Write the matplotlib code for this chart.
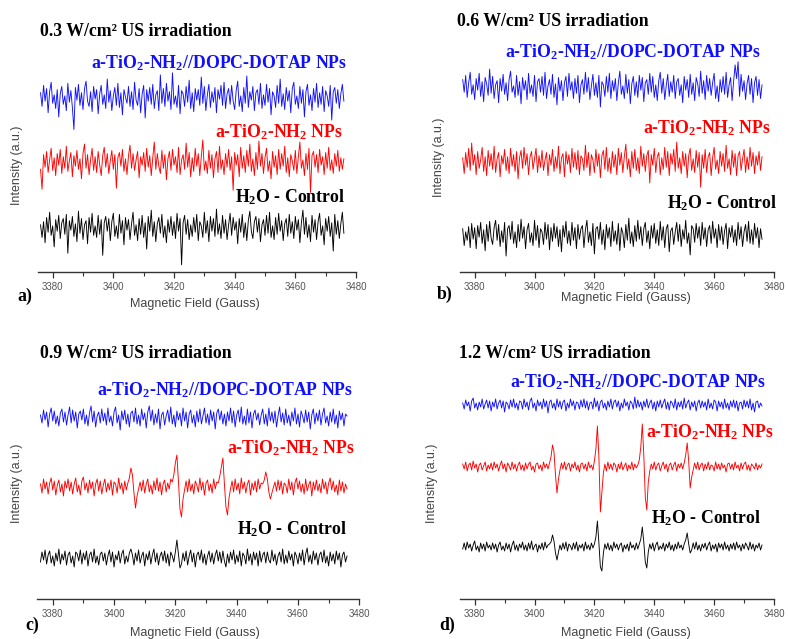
import numpy as np
import matplotlib.pyplot as plt

# EPR spectra, intensities in a.u. sampled every 0.5 G from 3376 to 3476 G
field_start, field_end = 3376, 3476

# panel a, 0.3 W/cm2
a_blue = [5, -8, 12, -3, 9, -14, 6, 15, -5, 3, -10, 8, -18, 4, 11, -6, 2, -12, 14, -4,
          7, -9, -30, 10, -2, 13, -7, 5, -11, 9, 16, -3, -8, 6, -13, 11, -1, 8, -15, 4,
          12, -6, 3, -10, 18, -4, 7, -12, 2, 10, -7, 14, -9, 5, -16, 8, 1, -5, 11, -8,
          6, -11, 15, -2, -7, 9, -14, 4, 12, -19, 8, -3, 10, -6, 13, -10, 3, 7, -12, 22,
          -5, 9, -8, 14, -3, 6, -11, 24, -6, 2, -9, 12, -15, 7, 4, -8, 11, -4, 17, -10,
          5, -13, 9, -2, 8, -7, 20, -5, 11, -12, 3, 13, -9, 6, -4, 10, -14, 8, -1, 12,
          -7, 15, -10, 4, 9, -6, 12, -3, -11, 7, 16, -8, 2, -13, 10, -5, 21, -9, 6, -2,
          11, -12, 5, 8, -6, 14, -10, 3, -7, 13, -4, 9, -16, 6, 2, -9, 12, -5, 18, -8,
          4, -11, 10, -3, 7, -14, 9, 15, -6, 2, -10, 11, -5, 8, -18, 6, 13, -7, 3, -12,
          9, -4, 14, -9, 5, -6, 11, -13, 7, 2, -8, 12, -21, 6, 10, -5, 8, -10, 4, 13,
          -3]
a_red = [-6, -25, 8, -4, 11, -9, 3, 14, -7, 5, -12, 9, -2, 13, -10, 6, -5, 16, -8, 2,
         10, -13, 7, -3, 12, -6, 4, -15, 9, 18, -5, 8, -11, 3, 14, -7, 6, -9, 11, -2,
         -12, 7, 15, -4, 9, -10, 2, 12, -6, 8, -24, 5, 10, -3, 13, -8, 4, -11, 7, 17,
         -5, 9, -7, 3, 11, -14, 6, -2, 10, -8, 14, -4, 7, -12, 5, 20, -6, 9, -3, -10,
         12, -5, 8, -16, 4, 11, -7, 13, -2, 6, -9, 15, -11, 3, 8, -6, 19, -4, 10, -13,
         5, -8, 14, -3, 9, -12, 6, 22, -7, 2, -10, 12, -5, 8, -14, 4, 11, -9, 16, -6,
         3, -11, 9, -4, 13, -7, 6, -26, 10, -2, 8, -13, 15, -5, 7, -9, 12, -3, 18, -8,
         4, -12, 10, -6, 21, -3, 9, -10, 5, 14, -8, 2, -15, 11, -4, 7, -11, 13, -6, 9,
         -3, 16, -9, 5, -13, 8, 2, -7, 12, -10, 6, 20, -5, 3, -12, 9, -6, 14, -28, 7,
         11, -4, 8, -9, 13, -2, 6, -11, 10, -5, 15, -7, 3, -10, 9, -3, 12, -8, 5, -6,
         4]
a_black = [3, -9, 6, -14, 10, -4, 15, -7, 2, -18, 8, -3, 12, -10, 5, 9, -6, 13, -24, 7,
           -2, 11, -8, 4, -13, 16, -5, 9, -11, 3, 7, -15, 10, -4, 14, -7, 2, -9, 12, -6,
           8, -26, 5, 11, -3, 9, -12, 6, 14, -8, 2, -10, 13, -5, 7, -16, 10, -2, 8, -11,
           4, 15, -7, 3, -12, 9, -6, 12, -9, 5, -20, 11, -3, 17, -8, 6, -13, 4, 10, -5,
           13, -9, 2, -14, 8, -4, 11, -7, 6, -10, 14, -3, 9, -35, 5, 12, -6, 8, -11, 3,
           -8, 10, -4, 13, -12, 6, 2, -9, 15, -5, 7, -13, 11, -3, 9, -8, 18, -6, 4, -10,
           12, -5, 8, -11, 3, 14, -7, 10, -2, 6, -15, 9, -4, 13, -9, 5, -12, 7, 16, -3,
           -10, 6, 11, -4, 9, -13, 3, 8, -7, 12, -5, 15, -9, 2, -11, 10, -6, 14, -3, 7,
           -12, 4, 9, -8, 13, -5, 6, -10, 11, -2, 8, -14, 5, 17, -6, 10, -9, 3, -13, 12,
           -4, 8, -11, 6, 14, -7, 2, -16, 9, -3, 11, -8, 5, -22, 13, -6, 7, -10, 4, 15,
           -5]

# panel b, 0.6 W/cm2
b_blue = [8, -4, 12, -9, 5, 15, -6, 3, -11, 9, -2, 14, -8, 6, -13, 10, 4, -7, 18, -5,
          11, -10, 3, 7, -14, 9, -3, 13, -6, 5, -12, 8, 16, -4, 2, -9, 12, -7, 6, -15,
          10, -2, 7, -11, 14, -5, 3, -8, 12, -13, 6, 9, -4, 11, -7, 15, -10, 2, 8, -6,
          13, -9, 4, -16, 10, -3, 7, -12, 5, 11, -8, 14, -2, 6, -10, 9, -5, 12, -14, 3,
          8, -6, 15, -4, 10, -11, 2, 13, -7, 5, -9, 12, -18, 6, 3, -8, 11, -4, 14, -10,
          7, -3, 9, -12, 5, 16, -6, 2, -10, 13, -5, 8, -15, 4, 11, -7, 6, -9, 12, -2,
          10, -13, 5, 8, -6, 14, -4, 11, -9, 3, -12, 7, 15, -5, 9, -11, 2, 13, -8, 6,
          -4, 12, -10, 6, 9, -7, 3, -14, 11, -2, 8, -9, 13, -6, 5, -12, 10, 4, -8, 16,
          -5, 7, -11, 12, -3, 9, -7, 5, 14, -10, 2, -13, 8, -4, 11, -6, 15, -9, 3, 10,
          -12, 6, 22, 9, 25, -8, 13, -3, 7, -11, 4, 12, -6, 9, -14, 5, 11, -7, 8, -10,
          3]
b_red = [4, -11, 9, -5, 13, -8, 18, -3, 7, -12, 10, -6, 2, 14, -9, 5, -13, 11, -4, 8,
         -7, 15, -10, 3, 9, -14, 6, -2, 12, -8, 5, -11, 13, -4, 7, -9, 10, -16, 4, 11,
         -6, 14, -3, 8, -12, 5, 10, -7, 3, 13, -10, 6, -5, 11, -8, 2, 9, -13, 7, -3,
         12, -9, 5, -6, 15, -11, 4, 8, -14, 10, -2, 7, -10, 13, -5, 9, -7, 11, -12, 6,
         3, -8, 16, -5, 9, -13, 7, 2, -10, 12, -4, 8, -15, 6, 11, -7, 14, -9, 4, -11,
         10, -5, 7, -12, 13, -3, 9, -10, 5, 17, -7, 3, -14, 10, -6, 12, -8, 4, -11, 15,
         -4, 8, -9, 6, 11, -20, 7, -3, 13, -10, 5, 9, -12, 4, -7, 14, -5, 10, -13, 8,
         -2, 12, -9, 19, -6, 4, -11, 10, -4, 8, -15, 6, 13, -8, 3, -10, 11, -5, 9, -24,
         7, -6, 12, -10, 5, 9, -13, 4, 14, -7, 2, -11, 10, -4, 8, -9, 16, -6, 3, -12,
         11, -5, 8, -13, 6, 10, -8, 3, 12, -10, 5, -7, 14, -4, 9, -11, 6, -3, 10, -8,
         5]
b_black = [6, -10, 3, -5, 8, -12, 11, -4, 7, -13, 9, -2, 12, -8, 5, -15, 10, -6, 13, -3,
           -9, 7, 14, -5, 10, -11, 4, -7, 12, -20, 6, 9, -4, 13, -8, 3, -12, 10, -6, 15,
           -3, 8, -13, 5, 11, -7, 2, -10, 14, -5, 9, -12, 6, 3, -9, 12, -4, 10, -14, 7,
           -6, 11, -3, 8, -11, 5, -16, 9, -2, 13, -8, 4, -10, 12, -5, 7, -13, 10, -4, 6,
           9, -12, 5, 14, -7, 3, -10, 11, -18, 6, 8, -4, 12, -9, 5, -14, 10, -3, 7, -11,
           13, -6, 4, -9, 11, -15, 7, 2, -12, 10, -5, 16, -8, 3, -11, 9, -6, 14, -4, 8,
           -10, 6, 12, -7, 4, -13, 9, -3, 11, -8, 5, -10, 13, -5, 8, -12, 6, 10, -16, 4,
           7, -9, 3, 12, -6, 10, -11, 5, -4, 14, -8, 2, -19, 9, 6, -7, 11, -3, 8, -10,
           12, -4, 7, -11, 5, 9, -8, 13, -3, 6, -12, 10, -5, 8, -9, 4, 11, -13, 7, -2,
           9, -7, 5, -10, 12, -4, 8, -11, 3, 10, -6, 13, -8, 5, -9, 11, -3, 7, -12, 6,
           -4]

# panel c, 0.9 W/cm2
c_blue = [3, -5, 8, -2, 6, -9, 4, 10, -3, 7, -6, 2, -8, 5, 9, -4, 6, -7, 3, 11,
          -5, 8, -3, 6, -10, 4, 7, -2, 9, -6, 3, -8, 5, 12, -4, 7, -9, 2, 6, -5,
          9, -3, 5, -7, 10, -4, 2, -8, 6, 11, -5, 3, -12, 7, -2, 8, -6, 4, -9, 5,
          7, -4, 10, -6, 3, -8, 9, -2, 5, -10, 6, 12, -3, 8, -7, 4, -5, 9, -11, 3,
          6, -7, 2, 8, -4, 11, -6, 3, -9, 7, -2, 5, -8, 10, -3, 6, -10, 4, 8, -5,
          3, -9, 7, -4, 9, -6, 2, 10, -5, 4, -7, 8, -3, 6, -11, 5, 9, -2, 7, -6,
          4, -8, 6, -3, 10, -5, 7, -9, 3, 8, -4, 11, -6, 2, -7, 9, -5, 6, -10, 4,
          8, -2, 5, -7, 3, 9, -6, 4, -8, 10, -3, 6, -5, 7, -9, 2, 11, -4, 5, -7,
          9, -5, 3, -8, 6, -3, 10, -6, 4, -9, 7, 2, -5, 8, -4, 6, -11, 3, 9, -6,
          5, -3, 8, -7, 4, 10, -5, 2, -8, 6, -4, 9, -6, 3, -10, 7, -2, 5, -8, 4,
          2]
c_red = [3, -6, 8, -2, 5, -7, 4, 9, -3, 6, -8, 2, 7, -5, 3, -9, 6, -1, 8, -4,
         5, -7, 3, 9, -5, 2, -8, 6, 10, -3, 4, -6, 7, -2, 5, -9, 3, 8, -4, 6,
         -7, 2, 8, -5, 4, -3, 7, -8, 5, 3, -6, 9, -2, 4, -7, 6, -3, 4, 9, 19,
         12, -6, -21, -9, -2, 5, -4, 7, -6, 3, 8, -5, 2, -7, 6, -3, 9, -4, 5, -8,
         3, 7, -5, 4, -2, 8, 5, 12, 24, 32, 6, -22, -30, -12, -3, 6, -5, 8, -4, 3,
         -7, 6, 2, -5, 9, -3, 5, -8, 4, 7, -4, 3, -6, 8, -2, 5, 4, 11, 20, 29,
         3, -20, -28, -11, -2, 6, -5, 8, -3, 4, -7, 9, -2, 5, -6, 3, 7, -8, 4, -3,
         6, -5, 8, -2, 4, 3, 7, 15, 8, -5, -12, -6, 0, 5, -4, 7, -3, 6, -7, 4,
         2, -6, 8, -3, 5, -8, 4, 9, -2, 6, -5, 3, -7, 8, -4, 2, 6, -9, 5, -3,
         7, -4, 3, -6, 8, -2, 5, -7, 4, 9, -3, 6, -5, 2, -8, 7, -4, 5, -6, 3,
         -2]
c_black = [-4, 6, -2, 8, -6, 3, 7, -5, 2, -8, 5, -3, 9, -6, 4, -2, 7, -7, 3, 6,
           -5, 2, -9, 6, 4, -3, 8, -6, 5, -2, 7, -8, 3, 6, -4, 9, -5, 2, -7, 4,
           6, -3, 5, -7, 2, 8, -4, 6, -9, 3, -2, 7, -5, 4, 8, -6, 2, -4, 5, 9,
           3, -7, 5, -3, 8, -5, 2, 6, -8, 4, -2, 7, -6, 3, 9, -4, 5, -7, 2, 6,
           -3, 7, -5, 4, -8, 6, 2, -4, 6, 18, 4, -10, -6, 5, -3, 7, -7, 2, 8, -4,
           5, -9, 3, 6, -2, 8, -5, 4, -7, 2, 7, -4, 5, -6, 3, 8, -3, 6, -5, 7,
           -3, -9, 4, -5, 6, -2, 8, -6, 3, -4, 7, -8, 5, 2, -6, 9, -3, 4, -7, 6,
           -2, 5, -8, 7, -4, 3, 6, -5, 6, -2, -5, 8, -3, 4, -7, 2, 6, -4, 9, -6,
           3, -5, 7, -2, 4, -8, 6, 2, -6, 5, -3, 8, -7, 4, 10, -4, 3, -6, 7, -2,
           5, -7, 3, 6, -4, 8, -5, 2, -8, 6, -3, 4, -6, 7, -2, 5, -9, 3, 6, -4,
           2]

# panel d, 1.2 W/cm2
d_blue = [2, -4, 5, -1, 3, -6, 4, 7, -3, 2, -5, 3, -2, 6, -4, 1, 5, -3, 4, -6,
          3, -2, 6, -4, 2, 5, -3, 4, -7, 3, 1, -4, 5, -2, 6, -3, 2, -5, 4, 3,
          -4, 6, -2, 3, -5, 4, 7, -3, 2, -6, 5, -1, 3, -4, 6, -2, 4, -8, 3, 5,
          -3, 2, -5, 6, -2, 4, -4, 3, 5, -6, 2, -3, 6, -1, 4, -5, 3, 2, -4, 5,
          -2, 6, -3, 4, -5, 2, 3, -4, 7, -2, 4, -6, 3, 5, -3, 2, -5, 4, -2, 6,
          -4, 3, 5, -2, 4, -6, 2, -3, 6, -1, 3, -5, 4, 2, -4, 8, -3, 5, -2, 3,
          -5, 4, -2, 6, -3, 2, 5, -4, 3, -6, 4, -2, 5, -3, 2, 6, -4, 3, -5, 4,
          2, -3, 6, -5, 3, -2, 4, -4, 7, -3, 2, 5, -5, 3, -2, 4, -6, 2, 5, -3,
          4, -2, 3, -5, 6, -3, 2, -4, 5, 3, -6, 4, -2, 3, -4, 6, -3, 2, -5, 4,
          -2, 5, -3, 4, -6, 2, 3, -4, 5, -2, 4, -3, 6, -5, 2, -7, 3, 4, -3, 2,
          -1]
d_red = [3, -2, 5, -4, 2, 4, -3, 6, -1, 3, -5, 2, 4, -3, 1, 5, -4, 2, -2, 4,
         -3, 5, -1, 3, -4, 2, 6, -2, 3, -5, 4, 1, -3, 5, -2, 3, -4, 2, 5, -3,
         2, -4, 4, -2, 3, 5, -3, 1, -5, 3, 4, -2, 2, -4, 5, -1, 3, -2, 4, 10,
         22, 15, -8, -26, -12, -3, 4, -2, 5, -3, 2, 4, -4, 3, -1, 5, -3, 2, -5, 3,
         4, -2, 3, -4, 5, -1, 2, -3, 6, 18, 41, 10, -45, -25, -6, 3, -4, 5, -2, 3,
         -3, 4, 2, -5, 3, -2, 5, -3, 1, 4, -4, 2, -2, 5, -3, 3, -1, 2, 7, 20,
         43, 12, -30, -43, -15, -4, 3, -2, 5, -3, 2, 4, -4, 1, 5, -2, 3, -5, 2, 4,
         -3, 2, 5, -4, 3, -1, 4, -2, 4, 12, 24, 6, -21, -10, -3, 4, -2, 5, -3, 2,
         4, -4, 3, -2, 5, -3, 2, 1, -4, 5, -2, 3, -3, 4, -1, 2, -5, 3, 4, -2,
         3, -3, 5, -1, 2, -4, 4, -2, 3, 5, -3, 2, -4, 3, 1, -2, 4, -3, 2, -1,
         3]
d_black = [-2, 4, -3, 5, -1, 3, -4, 2, 6, -3, 1, -5, 4, -2, 3, -4, 5, -1, 2, -3,
           4, -2, 3, -5, 2, 5, -3, 1, -4, 4, -2, 3, -5, 2, 6, -3, 2, -4, 3, -1,
           5, -3, 2, -4, 4, -2, 6, -3, 1, 3, -5, 2, -2, 4, -3, 5, -1, 2, 3, 5,
           12, 6, -6, -13, -5, 2, -3, 4, -2, 5, -4, 3, 1, -3, 4, -2, 5, -4, 2, -1,
           3, -4, 5, -2, 2, -3, 4, -1, 3, 10, 26, 4, -20, -24, -6, 3, -2, 4, -3, 2,
           -4, 5, -1, 3, -3, 2, 4, -5, 2, -2, 3, -4, 5, -1, 2, -3, 4, -2, 3, 8,
           20, 5, -15, -21, -5, 3, -2, 4, -4, 2, 5, -3, 1, -2, 4, -4, 3, -1, 5, -3,
           2, -4, 3, -2, 5, -1, 2, -3, 3, 7, 14, 3, -6, -3, 4, -2, 5, -3, 2, -4,
           3, -1, 4, -3, 2, 5, -4, 2, -2, 3, -5, 4, -1, 3, -3, 5, -2, 2, -4, 3,
           -2, 4, -3, 5, -1, 2, -4, 3, -2, 4, 1, -3, 5, -2, 3, -4, 2, -1, 4, -3,
           2]

titles = ["0.3 W/cm\u00b2 US irradiation", "0.6 W/cm\u00b2 US irradiation",
          "0.9 W/cm\u00b2 US irradiation", "1.2 W/cm\u00b2 US irradiation"]
tags = ["a)", "b)", "c)", "d)"]
names = [r"a-TiO$_2$-NH$_2$//DOPC-DOTAP NPs", r"a-TiO$_2$-NH$_2$ NPs", r"H$_2$O - Control"]
colors = ["#1010ff", "#ff0000", "#000000"]
xticks = [3380, 3400, 3420, 3440, 3460, 3480]

data = [[a_blue, a_red, a_black], [b_blue, b_red, b_black],
        [c_blue, c_red, c_black], [d_blue, d_red, d_black]]

plt.rcParams.update({'font.family': 'Liberation Sans', 'mathtext.default': 'regular'})

W, H = 788, 639
fig = plt.figure(figsize=(W / 100, H / 100), dpi=100)


def fx(x):
    return x / W


def fy(y):
    return 1 - y / H


# pixel layout of each panel
panels = [
    dict(left=37.5, right=356, spine=272, top=40, offs=[174, 109, 44], scale=1.05,
         title=(40, 31), tag=(17, 296), xlab=(195, 304), ylab=(17, 165),
         lab=[(347, 63), (343, 132), (345, 197)]),
    dict(left=459.7, right=774, spine=272, top=40, offs=[184, 110, 37], scale=1.05,
         title=(457, 22), tag=(437, 294), xlab=(626, 298), ylab=(439, 157),
         lab=[(761, 52), (771, 128), (777, 203)]),
    dict(left=37.4, right=359.3, spine=599, top=367, offs=[181, 112, 41], scale=1.0,
         title=(40, 353), tag=(25, 625), xlab=(195, 633), ylab=(17, 483),
         lab=[(353, 390), (355, 448), (347, 529)]),
    dict(left=459.7, right=774, spine=599, top=367, offs=[194, 132, 52], scale=1.0,
         title=(459, 353), tag=(439, 625), xlab=(626, 633), ylab=(432, 483),
         lab=[(766, 382), (774, 432), (761, 518)]),
]

serif = 'Liberation Serif'

for p, traces, title, tag in zip(panels, data, titles, tags):
    ax = fig.add_axes([fx(p['left']), fy(p['spine']),
                       (p['right'] - p['left']) / W, (p['spine'] - p['top']) / H])
    for vals, off, c in zip(traces, p['offs'], colors):
        v = np.array(vals, dtype=float)
        x = np.linspace(field_start, field_end, len(v))
        ax.plot(x, off + p['scale'] * v, color=c, lw=0.65)
    ax.set_xlim(3375, 3480)
    ax.set_ylim(0, p['spine'] - p['top'])
    ax.set_xticks(xticks)
    ax.set_xticks(np.arange(3390, 3480, 20), minor=True)
    ax.set_yticks([])
    for s in ['left', 'right', 'top']:
        ax.spines[s].set_visible(False)
    ax.spines['bottom'].set_color('#333333')
    ax.spines['bottom'].set_linewidth(1.0)
    ax.tick_params(axis='x', which='major', direction='out', length=4, width=0.9,
                   color='#333333', labelsize=7, labelcolor='#555555', pad=3.5)
    ax.tick_params(axis='x', which='minor', direction='out', length=3, width=0.8,
                   color='#333333')
    ax.patch.set_alpha(0)

    fig.text(fx(p['title'][0]), fy(p['title'][1]), title, family=serif,
             weight='bold', fontsize=12.8, ha='left', va='center')
    fig.text(fx(p['tag'][0]), fy(p['tag'][1]), tag, family=serif,
             weight='bold', fontsize=12.8, ha='left', va='center')
    fig.text(fx(p['xlab'][0]), fy(p['xlab'][1]), "Magnetic Field (Gauss)",
             fontsize=9, color='#444444', ha='center', va='center')
    fig.text(fx(p['ylab'][0]), fy(p['ylab'][1]), "Intensity (a.u.)",
             fontsize=9, color='#444444', ha='center', va='center', rotation=90)
    for (lx, ly), name, c in zip(p['lab'], names, colors):
        fig.text(fx(lx), fy(ly), name, family=serif, weight='bold',
                 fontsize=12.8, color=c, ha='right', va='center')

fig.savefig("out.png", dpi=100)
